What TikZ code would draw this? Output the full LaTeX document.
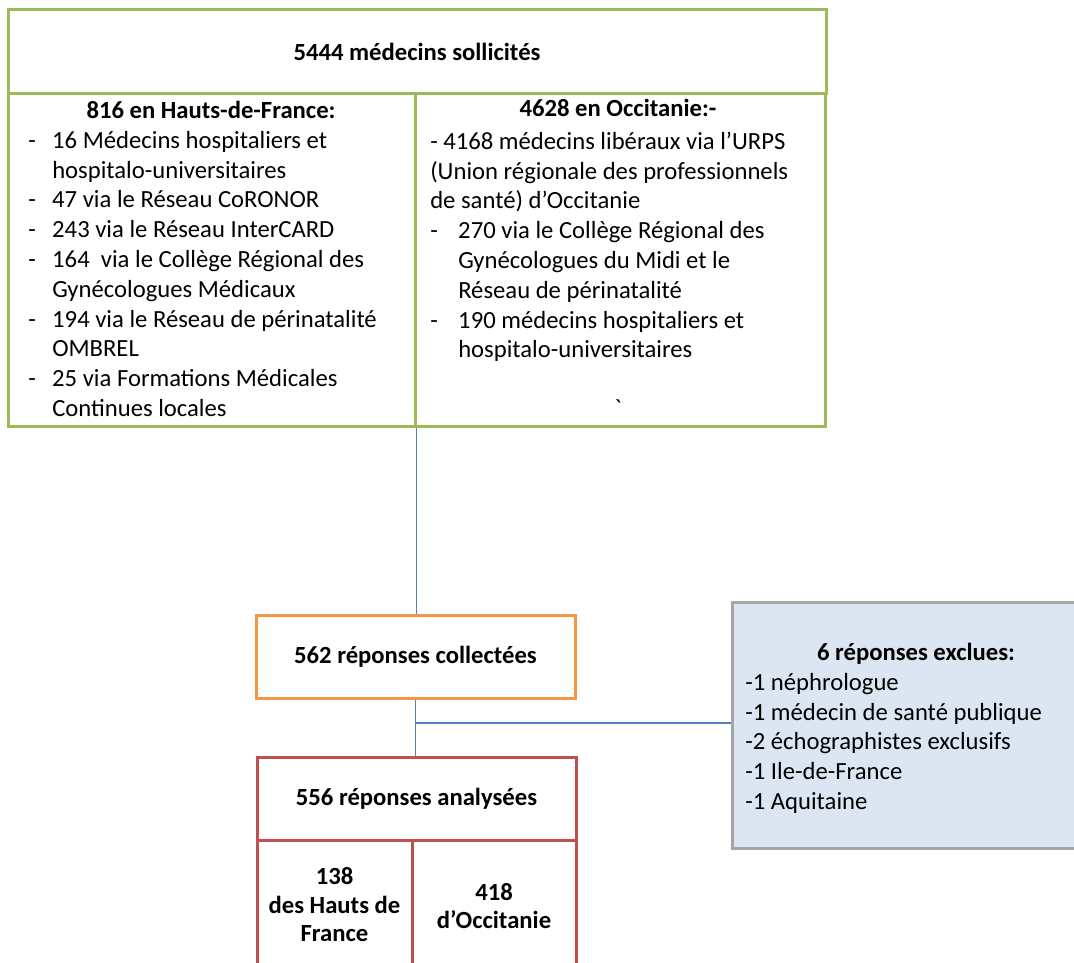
\documentclass[tikz,border=0pt]{standalone}
\usepackage{fontspec}
\setmainfont{Carlito}
\newfontfamily\gravefont[Ligatures=ResetAll]{Carlito}
\usetikzlibrary{fit}
\definecolor{cgreen}{RGB}{155,187,89}
\definecolor{corange}{RGB}{247,150,70}
\definecolor{cred}{RGB}{192,80,77}
\definecolor{cblue}{RGB}{79,129,189}
\definecolor{cgrey}{RGB}{166,166,166}
\definecolor{cfill}{RGB}{220,230,242}
\newlength\px \setlength\px{0.75pt}
\begin{document}
\begin{tikzpicture}[x=0.75pt,y=-0.75pt,
  box/.style={draw, line width=2.25pt, inner sep=0pt, fill=white},
  gbox/.style={box, draw=cgreen},
  obox/.style={box, draw=corange},
  rbox/.style={box, draw=cred},
  xbox/.style={box, draw=cgrey, fill=cfill},
  link/.style={draw=cblue, line width=1.4pt},
  txt/.style={font=\fontsize{18.5}{22.35}\selectfont, inner sep=0pt},
  btxt/.style={font=\fontsize{18.5}{22.35}\selectfont\bfseries, inner sep=0pt},
  bsub/.style={font=\fontsize{18.5}{21.4}\selectfont\bfseries, inner sep=0pt, align=center},
]
\useasboundingbox (0,0) rectangle (1074,963);
\clip (0,0) rectangle (1074,963);
\fill[white] (0,0) rectangle (1074,963);

% boxes
\node[gbox, fit={(8,10) (826,94)}] (top) {};
\node[gbox, fit={(8,94) (415,426)}] (hdf) {};
\node[gbox, fit={(415,94) (825,426)}] (occ) {};
\node[obox, fit={(256,615) (575,698)}] (coll) {};
\node[xbox, fit={(732,602) (1090,848)}] (excl) {};
\node[rbox, fit={(257,757) (576,840)}] (anal) {};
\node[rbox, fit={(257,840) (412,995)}] (anahdf) {};
\node[rbox, fit={(412,840) (576,995)}] (anaocc) {};

% connectors
\coordinate (br) at (416,723);
\draw[link] (hdf.south east) -- (hdf.south east |- coll.north);
\draw[link] (coll.south) -- (coll.south |- anal.north);
\draw[link] (br -| coll.south) -- (br -| excl.west);

% texts
\node[btxt] (ttop) at (top.center) {5444 médecins sollicités};

\node[btxt, anchor=base] (thdf) at (211,119) {816 en Hauts-de-France:};
\node[txt, anchor=north west, align=left] (lhdf) at (28,127.1) {\strut\makebox[24\px][l]{-}16 Médecins hospitaliers et\\
\hspace*{24\px}hospitalo-universitaires\\
\makebox[24\px][l]{-}47 via le Réseau CoRONOR\\
\makebox[24\px][l]{-}243 via le Réseau InterCARD\\
\makebox[24\px][l]{-}164\ \ via le Collège Régional des\\
\hspace*{24\px}Gynécologues Médicaux\\
\makebox[24\px][l]{-}194 via le Réseau de périnatalité\\
\hspace*{24\px}OMBREL\\
\makebox[24\px][l]{-}25 via Formations Médicales\\
\hspace*{24\px}Continues locales};

\node[btxt, anchor=base] (tocc) at (618,117) {4628 en Occitanie:-};
\node[txt, anchor=north west, align=left] (locc) at (430,128.1) {\strut- 4168 médecins libéraux via l’URPS\\
(Union régionale des professionnels\\
de santé) d’Occitanie\\
\makebox[28\px][l]{-}270 via le Collège Régional des\\
\hspace*{28\px}Gynécologues du Midi et le\\
\hspace*{28\px}Réseau de périnatalité\\
\makebox[28\px][l]{-}190 médecins hospitaliers et\\
\hspace*{28\px}hospitalo-universitaires};
\node[txt] (tick) at (618,408) {\gravefont\symbol{96}};

\node[btxt] (tcoll) at (coll.center) {562 réponses collectées};
\node[btxt] (tanal) at (anal.center) {556 réponses analysées};
\node[bsub] (thdf2) at (334.5,905) {138\\des Hauts de\\France};
\node[bsub] (tocc2) at (494,906) {418\\d’Occitanie};

\node[btxt, anchor=base] (texcl) at (916,660) {6 réponses exclues:};
\node[txt, anchor=north west, align=left] (lexcl) at (745,669.1) {\strut-1 néphrologue\\
-1 médecin de santé publique\\
-2 échographistes exclusifs\\
-1 Ile-de-France\\
-1 Aquitaine};
\end{tikzpicture}
\end{document}
